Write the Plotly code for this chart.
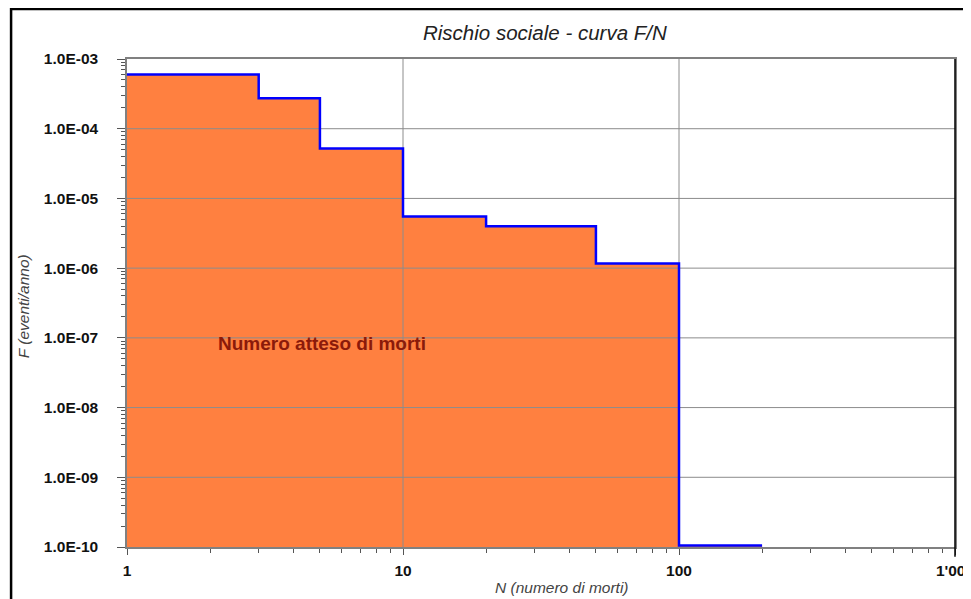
import plotly.graph_objects as go

# ---- data ----
n_edges = [1, 3, 5, 10, 20, 50, 100, 200]
f_values = [6.0e-4, 2.73e-4, 5.2e-5, 5.5e-6, 4.0e-6, 1.17e-6, 1.05e-10]

x_tickvals = [1, 10, 100, 1000]
x_ticktext = ["1", "10", "100", "1'000"]
y_exponents = [-10, -9, -8, -7, -6, -5, -4, -3]
y_tickvals = [10.0 ** e for e in y_exponents]
y_ticktext = ["1.0E-%02d" % (-e) for e in y_exponents]

title_text = "Rischio sociale - curva F/N"
x_title = "N (numero di morti)"
y_title = "F (eventi/anno)"
label_text = "Numero atteso di morti"

FONT = "Liberation Sans, Arial, sans-serif"
GRID = "#8c8c8c"
ymin, ymax = y_tickvals[0], y_tickvals[-1]

# step curve points
step_x = list(n_edges)
step_y = list(f_values) + [f_values[-1]]

fig = go.Figure()

# orange filled area under the step curve
fig.add_trace(go.Scatter(
    x=step_x + [n_edges[-1], n_edges[0]],
    y=step_y + [ymin, ymin],
    mode="lines", line=dict(width=0, shape="hv"),
    fill="toself", fillcolor="#FF8040",
    hoverinfo="skip", showlegend=False))

# grid lines drawn above the fill
gx, gy = [], []
for v in x_tickvals[1:-1]:
    gx += [v, v, None]
    gy += [ymin, ymax, None]
for v in y_tickvals[1:-1]:
    gx += [x_tickvals[0], x_tickvals[-1], None]
    gy += [v, v, None]
fig.add_trace(go.Scatter(x=gx, y=gy, mode="lines",
                         line=dict(color=GRID, width=1),
                         hoverinfo="skip", showlegend=False))

# blue step line
fig.add_trace(go.Scatter(
    x=step_x, y=step_y, mode="lines",
    line=dict(color="#0000FF", width=2.5, shape="hv"),
    hoverinfo="skip", showlegend=False))

x_minor = [d * 10 ** k for k in range(0, 3) for d in range(2, 10)]
y_minor = [d * 10.0 ** k for k in range(-10, -3) for d in range(2, 10)]

fig.update_xaxes(
    type="log", range=[0, 3], automargin=False,
    tickvals=x_tickvals, ticktext=x_ticktext,
    tickfont=dict(family=FONT, size=15.5, color="#111111", weight="bold"),
    ticks="outside", ticklen=6, tickcolor="#555555",
    showgrid=False, zeroline=False,
    showline=True, linecolor="#808080", linewidth=1.5, mirror=True,
    ticklabelstandoff=3, ticklabeloverflow="allow",
    minor=dict(tickvals=x_minor, ticks="outside", ticklen=4,
               tickcolor="#555555", showgrid=False),
)
fig.update_yaxes(
    type="log", range=[-10, -3], automargin=False,
    tickvals=y_tickvals, ticktext=y_ticktext,
    tickfont=dict(family=FONT, size=15.5, color="#111111", weight="bold"),
    ticks="outside", ticklen=8, tickcolor="#555555",
    showgrid=False, zeroline=False,
    showline=True, linecolor="#808080", linewidth=1.5, mirror=True,
    ticklabelstandoff=16,
    minor=dict(tickvals=y_minor, ticks="outside", ticklen=4,
               tickcolor="#555555", showgrid=False),
)

fig.update_layout(
    width=963, height=591,
    margin=dict(l=119, r=16, t=51, b=52),
    paper_bgcolor="white", plot_bgcolor="white",
    showlegend=False,
    annotations=[
        dict(text=title_text, xref="paper", yref="paper", x=0.5045, y=1.055,
             showarrow=False, xanchor="center", yanchor="middle",
             font=dict(family=FONT, size=20.5, color="#222222", style="italic")),
        dict(text=x_title, xref="paper", yref="paper", x=0.525, y=-0.082,
             showarrow=False, xanchor="center", yanchor="middle",
             font=dict(family=FONT, size=15.5, color="#444444", style="italic")),
        dict(text=y_title, xref="paper", yref="paper", x=-0.124, y=0.494,
             showarrow=False, xanchor="center", yanchor="middle", textangle=-90,
             font=dict(family=FONT, size=15.5, color="#444444", style="italic")),
        dict(text=label_text, xref="paper", yref="paper", x=0.2355, y=0.418,
             showarrow=False, xanchor="center", yanchor="middle",
             font=dict(family=FONT, size=19, color="#8B1A0A", weight="bold")),
    ],
    shapes=[
        # right border of plot area in black
        dict(type="line", xref="paper", yref="paper", x0=1, x1=1, y0=-0.02, y1=1,
             line=dict(color="black", width=1.5)),
        # outer chart frame
        dict(type="rect", xref="paper", yref="paper",
             x0=-0.140, x1=1.03, y0=-0.13, y1=1.1025,
             line=dict(color="black", width=2.5), fillcolor="rgba(0,0,0,0)"),
    ],
)

fig.write_html("out.html")
